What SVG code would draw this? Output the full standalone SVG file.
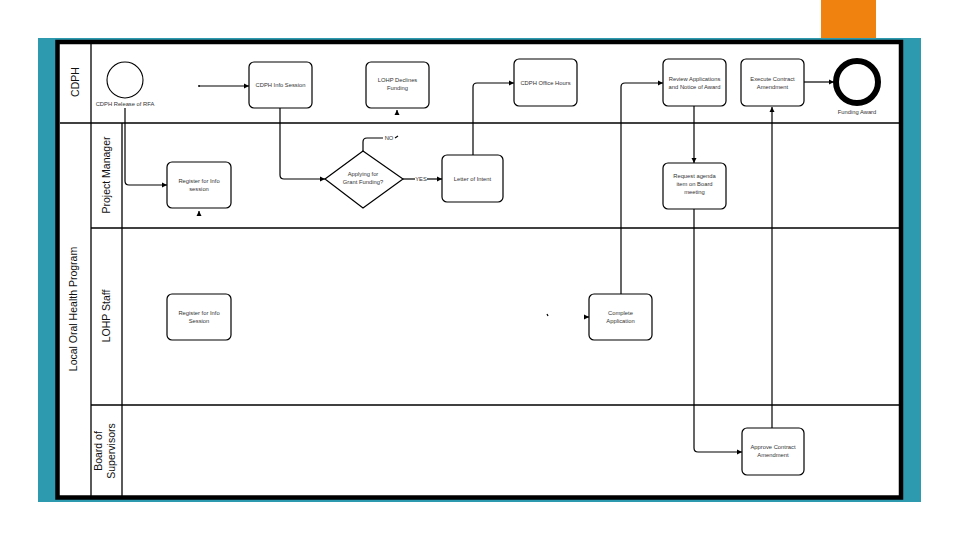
<svg xmlns="http://www.w3.org/2000/svg" width="960" height="540" viewBox="0 0 960 540">
<style>
.lane{stroke:#000;stroke-width:1.3;fill:none}
.hdr{font-family:"Liberation Sans",Arial,sans-serif;font-size:10.5px;fill:#111;text-anchor:middle;dominant-baseline:central}
.box{fill:#fff;stroke:#000;stroke-width:1.2}
.lbl{font-family:"Liberation Sans",Arial,sans-serif;font-size:5.8px;fill:#333;text-anchor:middle}
.con{fill:none;stroke:#000;stroke-width:1.2}
</style>
<defs>
<marker id="ah" markerWidth="6" markerHeight="6" refX="5" refY="3" orient="auto" markerUnits="userSpaceOnUse">
<path d="M0,0.5 L5,3 L0,5.5 Z" fill="#000"/>
</marker>
</defs>
<rect width="960" height="540" fill="#fff"/>
<rect x="821" y="0" width="55" height="38" fill="#F0820F"/>
<rect x="38" y="38" width="883" height="464" fill="#2E9AB0"/>
<rect x="57.5" y="42" width="843.5" height="455.5" fill="#fff" stroke="#000" stroke-width="4.5"/>
<g id="lanes">
<line class="lane" x1="91" y1="44" x2="91" y2="496"/>
<line class="lane" x1="122" y1="123" x2="122" y2="496"/>
<line class="lane" x1="60" y1="123" x2="899" y2="123"/>
<line class="lane" x1="91" y1="228" x2="899" y2="228"/>
<line class="lane" x1="91" y1="405" x2="899" y2="405"/>
<text class="hdr" transform="translate(75,82) rotate(-90)">CDPH</text>
<text class="hdr" transform="translate(73,309) rotate(-90)">Local Oral Health Program</text>
<text class="hdr" transform="translate(106,175) rotate(-90)">Project Manager</text>
<text class="hdr" transform="translate(106,316) rotate(-90)">LOHP Staff</text>
<text class="hdr" transform="translate(98,451) rotate(-90)">Board of</text>
<text class="hdr" transform="translate(111,451) rotate(-90)">Supervisors</text>
</g>
<g id="connectors">
<path class="con" d="M125,108 V181 Q125,185 129,185 H167" marker-end="url(#ah)"/>
<circle cx="199" cy="86" r="0.9" fill="#000"/>
<path class="con" d="M199,86 H249" marker-end="url(#ah)"/>
<path class="con" d="M280,108 V175 Q280,179 284,179 H325" marker-end="url(#ah)"/>
<path class="con" d="M363,151 V142 Q363,138 367,138 H383"/>
<path class="con" d="M395,138 L398,136"/>
<path class="con" d="M397,115 V110" marker-end="url(#ah)"/>
<path class="con" d="M403,179 H415"/>
<path class="con" d="M427,179 H442" marker-end="url(#ah)"/>
<path class="con" d="M473,155 V87 Q473,83 477,83 H514" marker-end="url(#ah)"/>
<path class="con" d="M621,294 V87 Q621,83 625,83 H663" marker-end="url(#ah)"/>
<path class="con" d="M694,106 V163" marker-end="url(#ah)"/>
<path class="con" d="M694,209 V448 Q694,452 698,452 H742" marker-end="url(#ah)"/>
<path class="con" d="M772,428 V107" marker-end="url(#ah)"/>
<path class="con" d="M804,82 H834" marker-end="url(#ah)"/>
<path class="con" d="M199,216 V211" marker-end="url(#ah)"/>
<path class="con" d="M547,314 L548,316"/>
<path class="con" d="M584,317 H589" marker-end="url(#ah)"/>
<text class="lbl" x="389" y="140">NO</text>
<text class="lbl" x="421" y="181">YES</text>
</g>
<g id="start">
<circle cx="125" cy="80" r="18" fill="#fff" stroke="#000" stroke-width="1.1"/>
<text class="lbl" x="125" y="106">CDPH Release of RFA</text>
</g>
<g id="infoSession">
<rect class="box" x="249" y="62" width="63" height="46" rx="5"/>
<text class="lbl" x="280.5" y="87">CDPH Info Session</text>
</g>
<g id="declines">
<rect class="box" x="366" y="62" width="63" height="46" rx="5"/>
<text class="lbl" x="397.5" y="82">LOHP Declines</text>
<text class="lbl" x="397.5" y="90">Funding</text>
</g>
<g id="officeHours">
<rect class="box" x="514" y="59" width="63" height="47" rx="5"/>
<text class="lbl" x="545.5" y="85">CDPH Office Hours</text>
</g>
<g id="review">
<rect class="box" x="663" y="59" width="63" height="47" rx="5"/>
<text class="lbl" x="694.5" y="81">Review Applications</text>
<text class="lbl" x="694.5" y="89">and Notice of Award</text>
</g>
<g id="execute">
<rect class="box" x="741" y="59" width="63" height="47" rx="5"/>
<text class="lbl" x="772.5" y="81">Execute Contract</text>
<text class="lbl" x="772.5" y="89">Amendment</text>
</g>
<g id="end">
<circle cx="857" cy="82" r="21" fill="#fff" stroke="#000" stroke-width="6"/>
<text class="lbl" x="857" y="114">Funding Award</text>
</g>
<g id="registerPM">
<rect class="box" x="167" y="162" width="64" height="46" rx="5"/>
<text class="lbl" x="199" y="183">Register for Info</text>
<text class="lbl" x="199" y="191">session</text>
</g>
<g id="decision">
<path class="box" d="M325,179 L363,151 L403,179 L363,208 Z"/>
<text class="lbl" x="363" y="176">Applying for</text>
<text class="lbl" x="363" y="184">Grant Funding?</text>
</g>
<g id="letter">
<rect class="box" x="442" y="155" width="61" height="47" rx="5"/>
<text class="lbl" x="472.5" y="181">Letter of Intent</text>
</g>
<g id="request">
<rect class="box" x="663" y="163" width="63" height="46" rx="5"/>
<text class="lbl" x="694.5" y="178">Request agenda</text>
<text class="lbl" x="694.5" y="186">item on Board</text>
<text class="lbl" x="694.5" y="194">meeting</text>
</g>
<g id="registerStaff">
<rect class="box" x="167" y="294" width="64" height="46" rx="5"/>
<text class="lbl" x="199" y="315">Register for Info</text>
<text class="lbl" x="199" y="323">Session</text>
</g>
<g id="complete">
<rect class="box" x="589" y="294" width="63" height="46" rx="5"/>
<text class="lbl" x="620.5" y="315">Complete</text>
<text class="lbl" x="620.5" y="323">Application</text>
</g>
<g id="approve">
<rect class="box" x="742" y="428" width="62" height="47" rx="5"/>
<text class="lbl" x="773" y="449">Approve Contract</text>
<text class="lbl" x="773" y="457">Amendment</text>
</g>
</svg>
